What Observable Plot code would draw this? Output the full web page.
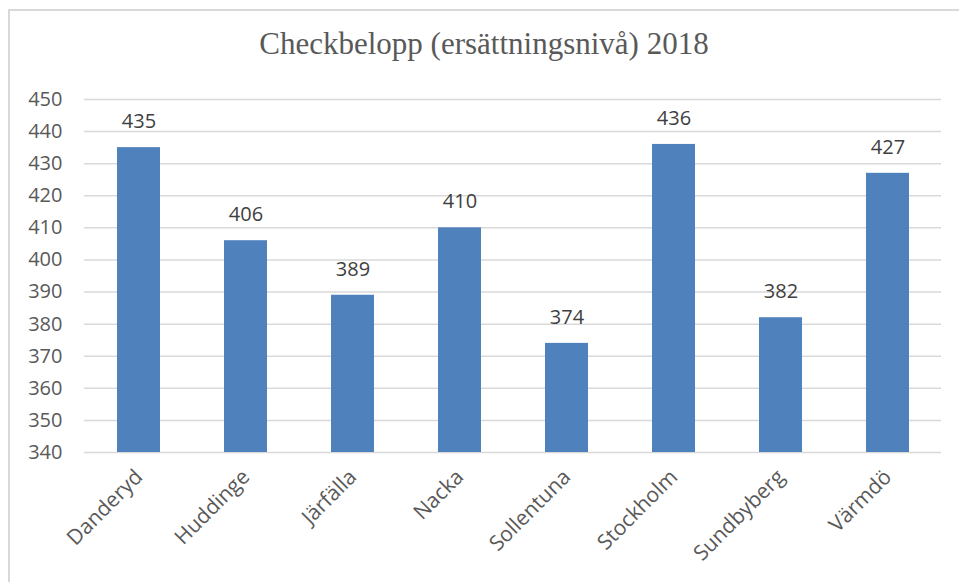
<!DOCTYPE html>
<html>
<head>
<meta charset="utf-8">
<script src="https://cdn.jsdelivr.net/npm/d3@7"></script>
<script src="https://cdn.jsdelivr.net/npm/@observablehq/plot@0.6"></script>
<style>
  html, body { margin: 0; padding: 0; background: #fff; }
  #wrap { position: relative; width: 959px; height: 582px; overflow: hidden; }
  #frame { position: absolute; left: 8px; top: 9px; width: 1000px; height: 1000px; border: 2px solid #d9d9d9; box-sizing: border-box; }
  #title { position: absolute; left: 8px; width: 952px; top: 26px; text-align: center; font-family: "Liberation Serif", "DejaVu Serif", serif; font-size: 31px; color: #595959; }
  #chart { position: absolute; left: 0; top: 0; }
</style>
</head>
<body>
<div id="wrap">
  <div id="frame"></div>
  <div id="chart"></div>
  <div id="title">Checkbelopp (ersättningsnivå) 2018</div>
</div>
<script>
const municipalities = ["Danderyd", "Huddinge", "Järfälla", "Nacka", "Sollentuna", "Stockholm", "Sundbyberg", "Värmdö"];
const amounts = [435, 406, 389, 410, 374, 436, 382, 427];
const yMin = 340;
const yMax = 450;
const yTicks = [340, 350, 360, 370, 380, 390, 400, 410, 420, 430, 440, 450];

const data = municipalities.map((m, i) => ({ name: m, value: amounts[i] }));

const chart = Plot.plot({
  width: 959,
  height: 582,
  marginLeft: 84,
  marginRight: 18,
  marginTop: 99,
  marginBottom: 130,
  style: { fontFamily: "'Open Sans', sans-serif", background: "transparent" },
  x: { domain: municipalities, paddingInner: 0.6, paddingOuter: 0.3, label: null },
  y: { domain: [yMin, yMax], label: null },
  marks: [
    Plot.gridY(yTicks, { stroke: "#d9d9d9", strokeOpacity: 1, strokeWidth: 1.5 }),
    Plot.barY(data, { x: "name", y1: yMin, y2: "value", fill: "#4f81bd" }),
    Plot.text(data, { x: "name", y: "value", text: d => String(d.value), dy: -26, fill: "#404040", fontSize: 20 }),
    Plot.axisY({ ticks: yTicks, tickSize: 0, tickPadding: 22, fontSize: 20, fill: "#595959", label: null }),
    Plot.axisX({ tickSize: 0, tickRotate: -45, tickPadding: 21, fontSize: 21, fill: "#595959", label: null })
  ]
});
document.getElementById("chart").appendChild(chart);
</script>
</body>
</html>
